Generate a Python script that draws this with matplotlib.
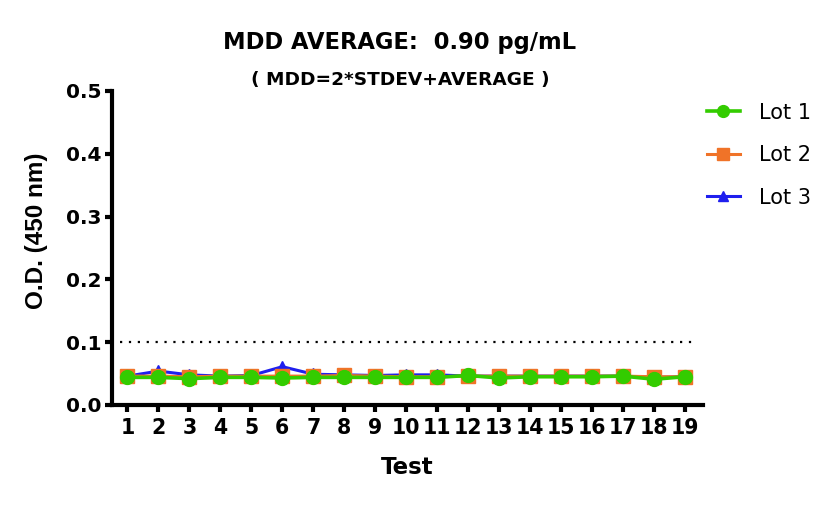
import matplotlib
matplotlib.use("Agg")
import matplotlib.pyplot as plt

plt.rcParams['font.family'] = ['DejaVu Sans']

tests = list(range(1, 20))
lot1 = [0.044, 0.044, 0.042, 0.044, 0.044, 0.043, 0.044, 0.044, 0.044, 0.044,
        0.044, 0.047, 0.043, 0.045, 0.045, 0.045, 0.046, 0.041, 0.045]
lot2 = [0.046, 0.046, 0.045, 0.046, 0.046, 0.046, 0.046, 0.047, 0.046, 0.045,
        0.045, 0.046, 0.046, 0.046, 0.046, 0.046, 0.046, 0.045, 0.045]
lot3 = [0.046, 0.054, 0.048, 0.046, 0.047, 0.061, 0.049, 0.048, 0.047, 0.048,
        0.048, 0.046, 0.046, 0.046, 0.046, 0.046, 0.046, 0.044, 0.045]
mdd_line = 0.1
yticks = [0.0, 0.1, 0.2, 0.3, 0.4, 0.5]

W, H = 839, 507
fig = plt.figure(figsize=(W / 100, H / 100), dpi=100)
ax = fig.add_axes([112 / W, 1 - 405 / H, (703 - 112) / W, (405 - 91) / H])

c1, c2, c3 = '#33cc00', '#f07328', '#1f1fee'
ax.plot(tests, lot3, color=c3, marker='^', markersize=9, linewidth=2.2, label='Lot 3', zorder=3)
ax.plot(tests, lot2, color=c2, marker='s', markersize=9.5, linewidth=2.2, label='Lot 2', zorder=4)
ax.plot(tests, lot1, color=c1, marker='o', markersize=10, linewidth=2.6, label='Lot 1', zorder=5)

ax.axhline(mdd_line, xmin=0.014, xmax=0.985, color='black', linestyle=(0, (1, 3)),
           linewidth=1.6, zorder=2)

ax.set_xlim(0.5, 19.58)
ax.set_ylim(0, 0.5)
ax.set_xticks(tests)
ax.set_yticks(yticks)
ax.set_yticklabels([f'{v:.1f}' for v in yticks])
for s in ['top', 'right']:
    ax.spines[s].set_visible(False)
for s in ['left', 'bottom']:
    ax.spines[s].set_linewidth(3)
ax.tick_params(axis='y', width=3, length=5, labelsize=14.5, pad=2.5)
ax.tick_params(axis='x', width=3, length=5, labelsize=14.8, pad=4)
for lab in ax.get_xticklabels() + ax.get_yticklabels():
    lab.set_fontweight('bold')

ax.set_xlabel('Test', fontsize=16.5, fontweight='bold', labelpad=13)
fig.text(37 / W, 1 - 231 / H, 'O.D. (450 nm)', rotation=90, ha='center', va='center',
         fontsize=17.5, fontweight='bold', family=['Liberation Sans', 'DejaVu Sans'])

fig.text(400 / W, 1 - 42 / H, 'MDD AVERAGE:  0.90 pg/mL', ha='center', va='center',
         fontsize=16.3, fontweight='bold')
fig.text(400 / W, 1 - 80 / H, '( MDD=2*STDEV+AVERAGE )', ha='center', va='center',
         fontsize=13.3, fontweight='bold')

handles, labels = ax.get_legend_handles_labels()
leg = ax.legend(handles[::-1], labels[::-1], loc='upper left', bbox_to_anchor=(688 / W, 1 - 84 / H),
                bbox_transform=fig.transFigure, frameon=False, fontsize=15,
                handlelength=1.6, labelspacing=1.08, handletextpad=0.9, markerscale=0.85)

fig.savefig('out.png', dpi=100)
